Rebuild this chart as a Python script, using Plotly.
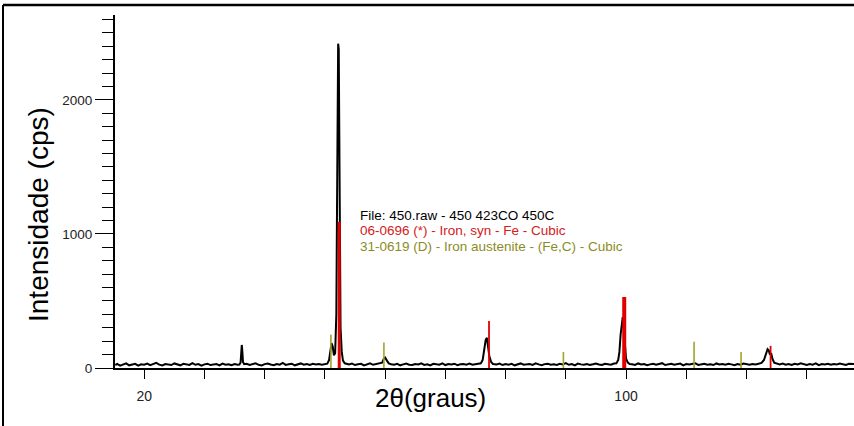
import plotly.graph_objects as go

# ---- measured XRD scan (2theta in degrees, intensity in cps) ----
two_theta = [
    15.2, 15.5, 16.0, 16.5, 17.0, 17.5, 18.0, 18.5, 19.0, 19.5, 20.0, 20.5, 21.0, 21.5, 22.0, 22.5, 23.0, 23.5, 24.0, 24.5,
    25.0, 25.5, 26.0, 26.5, 27.0, 27.5, 28.0, 28.5, 29.0, 29.5, 30.0, 30.5, 31.0, 31.5, 32.0, 32.5, 33.0, 33.5, 34.0, 34.5,
    35.0, 35.5,
    35.8, 36.0, 36.1, 36.2, 36.3, 36.4, 36.6,
    37.0, 37.5, 38.0, 38.5, 39.0, 39.5, 40.0, 40.5, 41.0, 41.5, 42.0, 42.5, 43.0, 43.5, 44.0, 44.5, 45.0, 45.5, 46.0, 46.5,
    47.0, 47.5, 48.0, 48.5, 49.0, 49.5, 50.0,
    50.4, 50.7, 50.9, 51.1, 51.3, 51.5, 51.7, 51.9, 52.0, 52.1, 52.2, 52.3, 52.4, 52.5, 52.6, 52.8, 53.0, 53.3, 53.6,
    54.0, 54.5, 55.0, 55.5, 56.0, 56.5, 57.0, 57.5, 58.0, 58.5, 59.0,
    59.5, 59.8, 60.0, 60.3, 60.6,
    61.0, 61.5, 62.0, 62.5, 63.0, 63.5, 64.0, 64.5, 65.0, 65.5, 66.0, 66.5, 67.0, 67.5, 68.0, 68.5, 69.0, 69.5, 70.0, 70.5,
    71.0, 71.5, 72.0, 72.5, 73.0, 73.5, 74.0, 74.5, 75.0, 75.5,
    75.9, 76.2, 76.5, 76.7, 76.9, 77.1, 77.3, 77.6, 77.9,
    78.5, 79.0, 79.5, 80.0, 80.5, 81.0, 81.5, 82.0, 82.5, 83.0, 83.5, 84.0, 84.5, 85.0, 85.5, 86.0, 86.5, 87.0, 87.5, 88.0,
    88.5, 89.0, 89.5, 90.0, 90.5, 91.0, 91.5, 92.0, 92.5, 93.0, 93.5, 94.0, 94.5, 95.0, 95.5, 96.0, 96.5, 97.0, 97.5, 98.0,
    98.4, 98.7, 98.9, 99.1, 99.3, 99.45, 99.6, 99.8, 100.0, 100.3, 100.6,
    101.0, 101.5, 102.0, 102.5, 103.0, 103.5, 104.0, 104.5, 105.0, 105.5, 106.0, 106.5, 107.0, 107.5, 108.0, 108.5, 109.0,
    109.5, 110.0, 110.5, 111.0, 111.5, 112.0, 112.5, 113.0, 113.5, 114.0, 114.5, 115.0, 115.5, 116.0, 116.5, 117.0, 117.5,
    118.0, 118.5, 119.0, 119.5, 120.0, 120.5, 121.0, 121.5, 122.0,
    122.5, 122.9, 123.2, 123.5, 123.7, 123.9, 124.1, 124.3, 124.6, 125.0,
    125.5, 126.0, 126.5, 127.0, 127.5, 128.0, 128.5, 129.0, 129.5, 130.0, 130.5, 131.0, 131.5, 132.0, 132.5, 133.0, 133.5,
    134.0, 134.5, 135.0, 135.5, 136.0, 136.5, 137.0, 137.5, 137.85,
]
intensity = [
    22, 30, 18, 27, 35, 20, 26, 31, 17, 28, 24, 33, 21, 29, 38, 25, 19, 30, 27, 22,
    34, 26, 20, 31, 28, 23, 36, 24, 29, 18, 27, 32, 22, 26, 30, 19, 33, 25, 28, 21,
    30, 24,
    26, 40, 110, 172, 120, 45, 28,
    31, 22, 27, 35, 24, 19, 29, 33, 26, 21, 30, 25, 38, 23, 28, 32, 20, 27, 34, 24,
    29, 22, 31, 26, 30, 25, 28,
    32, 60, 120, 185, 160, 95, 110, 400, 1100, 2000, 2420, 2380, 1500, 700, 300, 120, 55, 35, 30,
    26, 33, 22, 28, 31, 19, 27, 35, 24, 29, 32,
    40, 70, 78, 55, 35,
    28, 24, 31, 20, 27, 33, 25, 22, 30, 26, 35, 23, 28, 19, 31, 27, 24, 34, 22, 29,
    26, 32, 21, 28, 30, 25, 33, 24, 27, 29,
    35, 60, 140, 210, 225, 170, 90, 45, 30,
    27, 33, 22, 29, 25, 31, 20, 28, 34, 24, 26, 30, 23, 35, 27, 21, 29, 32, 25, 28,
    22, 31, 26, 36, 24, 29, 20, 33, 27, 25, 30, 23, 28, 34, 26, 22, 31, 29, 24, 33,
    35, 60, 120, 250, 360, 380, 300, 150, 70, 40, 30,
    28, 23, 34, 26, 30, 21, 27, 32, 25, 29, 36, 22, 28, 31, 24, 27, 33,
    20, 29, 26, 30, 35, 23, 27, 31, 25, 28, 22, 34, 26, 29, 24, 31, 27,
    21, 30, 25, 33, 28, 24, 29, 26, 32,
    38, 60, 105, 140, 130, 100, 110, 70, 40, 32,
    27, 33, 24, 29, 22, 31, 26, 35, 28, 23, 30, 25, 34, 21, 29, 27, 32,
    24, 30, 26, 33, 28, 22, 31, 27, 29,
]

# ---- reference patterns (stick positions / heights) ----
iron_pos = [52.38, 77.25, 99.7, 124.0]          # 06-0696 Iron, syn (red)
iron_int = [1090, 350, 530, 165]
austenite_pos = [51.0, 59.8, 89.6, 111.3, 119.1]  # 31-0619 Iron austenite (olive)
austenite_int = [250, 190, 120, 195, 120]

legend_lines = [
    "File: 450.raw - 450 423CO 450C",
    "06-0696 (*) - Iron, syn - Fe - Cubic",
    "31-0619 (D) - Iron austenite - (Fe,C) - Cubic",
]
x_label_vals = [20, 100]
x_tick_vals = [20, 30, 40, 50, 60, 70, 80, 90, 100, 110, 120, 130]

# style only (drawn line widths of the red sticks, px)
iron_widths = [3, 1.8, 4, 1.8]

RED = "#e00000"
OLIVE = "#a3a32a"

fig = go.Figure()
fig.add_trace(go.Scatter(x=two_theta, y=intensity, mode="lines",
                         line=dict(color="black", width=2), hoverinfo="skip"))

gx, gy = [], []
for p, h in zip(austenite_pos, austenite_int):
    gx += [p, p, None]
    gy += [0, h, None]
fig.add_trace(go.Scatter(x=gx, y=gy, mode="lines", line=dict(color=OLIVE, width=1.6)))

for p, h, w in zip(iron_pos, iron_int, iron_widths):
    fig.add_trace(go.Scatter(x=[p, p], y=[0, h], mode="lines", line=dict(color=RED, width=w)))

# plot-area pixel geometry
L, R, T, B = 115, 854, 15, 368
W, H = R - L, B - T


def px(xp):
    return (xp - L) / W


def py(yp):
    return (B - yp) / H


annotations = [
    dict(text=legend_lines[0], x=px(358), y=py(215), font=dict(color="black", size=13.5)),
    dict(text=legend_lines[1], x=px(358), y=py(231), font=dict(color="#d42020", size=13.5)),
    dict(text=legend_lines[2], x=px(358), y=py(246), font=dict(color="#8c8c1e", size=13.5)),
]
for a in annotations:
    a.update(xref="paper", yref="paper", xanchor="left", yanchor="middle", showarrow=False)

annotations.append(dict(text="Intensidade (cps)", x=px(38), y=py(215), xref="paper", yref="paper",
                        textangle=-90, showarrow=False, xanchor="center", yanchor="middle",
                        font=dict(size=28, color="black")))
annotations.append(dict(text="2θ(graus)", x=px(430), y=py(398), xref="paper", yref="paper",
                        showarrow=False, xanchor="center", yanchor="middle",
                        font=dict(size=26, color="black")))

shapes = [
    dict(type="line", xref="paper", yref="paper", x0=px(3), x1=px(854), y0=py(5), y1=py(5),
         line=dict(color="black", width=2.5)),
    dict(type="line", xref="paper", yref="paper", x0=px(3), x1=px(3), y0=py(5), y1=py(426),
         line=dict(color="black", width=2)),
]

fig.update_layout(
    width=854, height=426,
    margin=dict(l=L, r=854 - R, t=T, b=426 - B),
    paper_bgcolor="white", plot_bgcolor="white",
    showlegend=False,
    font=dict(family="Liberation Sans, Arial, sans-serif", color="black"),
    annotations=annotations,
    shapes=shapes,
    xaxis=dict(
        range=[15.15, 137.85], showgrid=False, zeroline=False,
        showline=True, linecolor="black", linewidth=1.5,
        ticks="outside", ticklen=9, tickwidth=1, tickcolor="black",
        tickvals=x_tick_vals,
        ticktext=[str(v) if v in x_label_vals else "" for v in x_tick_vals],
        tickfont=dict(size=14, color="#222"), ticklabelstandoff=5,
    ),
    yaxis=dict(
        range=[0, 2634], showgrid=False, zeroline=False,
        showline=True, linecolor="black", linewidth=2,
        ticks="outside", ticklen=18, tickwidth=1, tickcolor="black",
        tickvals=[0, 1000, 2000], tickfont=dict(size=13.5, color="#222"),
        minor=dict(dtick=100, ticks="outside", ticklen=11, tickcolor="black", tickwidth=1),
    ),
)

fig.write_html("out.html")
